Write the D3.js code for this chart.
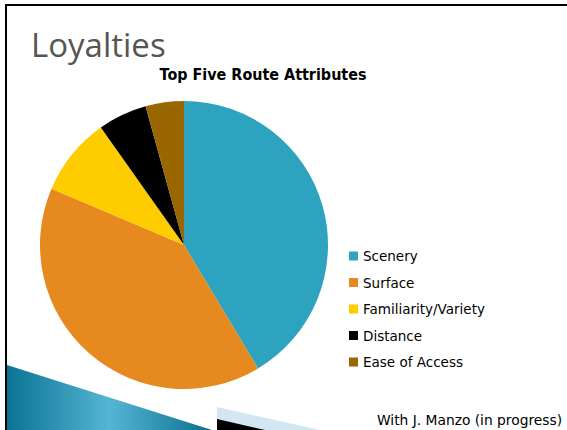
<!DOCTYPE html>
<html><head><meta charset="utf-8">
<script src="https://cdn.jsdelivr.net/npm/d3@7"></script>
<style>html,body{margin:0;padding:0;background:#fff;overflow:hidden}</style>
</head><body>
<script>
const categories = ["Scenery", "Surface", "Familiarity/Variety", "Distance", "Ease of Access"];
const values = [41.4, 40.0, 8.8, 5.5, 4.3];
const colors = ["#2ea3c0", "#e6891e", "#ffcc00", "#000000", "#996600"];
const slideTitle = "Loyalties";
const chartTitle = "Top Five Route Attributes";
const footer = "With J. Manzo (in progress)";

const W = 567, H = 430;
const svg = d3.select("body").append("svg").attr("width", W).attr("height", H);

const defs = svg.append("defs");
const g1 = defs.append("linearGradient").attr("id", "blueGrad")
  .attr("x1", "0").attr("y1", "0").attr("x2", "1").attr("y2", "0");
g1.append("stop").attr("offset", "0").attr("stop-color", "#0a7393");
g1.append("stop").attr("offset", "0.5").attr("stop-color", "#55b5d4");
g1.append("stop").attr("offset", "1").attr("stop-color", "#0a6f8e");

// slide decorations
svg.append("polygon").attr("points", "7,365 212,430 7,430").attr("fill", "url(#blueGrad)");
svg.append("polygon").attr("points", "217,407 320,430 217,430").attr("fill", "#d2e7ef");
svg.append("polygon").attr("points", "217,419 265,430 217,430").attr("fill", "#000");

// border lines
svg.append("rect").attr("x", 5).attr("y", 4).attr("width", 2).attr("height", H - 4).attr("fill", "#000");
svg.append("rect").attr("x", 5).attr("y", 4).attr("width", W - 5).attr("height", 2).attr("fill", "#000");

svg.append("text").attr("x", 31).attr("y", 57).text(slideTitle)
  .attr("font-family", "Open Sans, sans-serif").attr("font-size", 33).attr("fill", "#555");

svg.append("text").attr("x", 263).attr("y", 80).attr("text-anchor", "middle").text(chartTitle)
  .attr("font-family", "DejaVu Sans, sans-serif").attr("font-weight", "bold").attr("font-size", 15)
  .attr("textLength", 207).attr("lengthAdjust", "spacingAndGlyphs").attr("fill", "#000");

// pie
const cx = 184, cy = 245, r = 144;
const pie = d3.pie().sort(null).value(d => d.v);
const data = categories.map((c, i) => ({c, v: values[i]}));
const arc = d3.arc().innerRadius(0).outerRadius(r);
const color = d3.scaleOrdinal().domain(categories).range(colors);
svg.append("g").attr("transform", `translate(${cx},${cy})`)
  .selectAll("path").data(pie(data)).join("path")
  .attr("d", arc).attr("fill", d => color(d.data.c));

// legend
const ly = d3.scalePoint().domain(categories).range([256, 362]);
const lg = svg.append("g");
categories.forEach(c => {
  lg.append("rect").attr("x", 349).attr("y", ly(c) - 4.5).attr("width", 9).attr("height", 9).attr("fill", color(c));
  lg.append("text").attr("x", 363).attr("y", ly(c) + 5).text(c)
    .attr("font-family", "DejaVu Sans, sans-serif").attr("font-size", 13.5).attr("fill", "#000");
});

svg.append("text").attr("x", 377).attr("y", 425).text(footer)
  .attr("font-family", "DejaVu Sans, sans-serif").attr("font-size", 13.8).attr("fill", "#000");
</script>
</body></html>
